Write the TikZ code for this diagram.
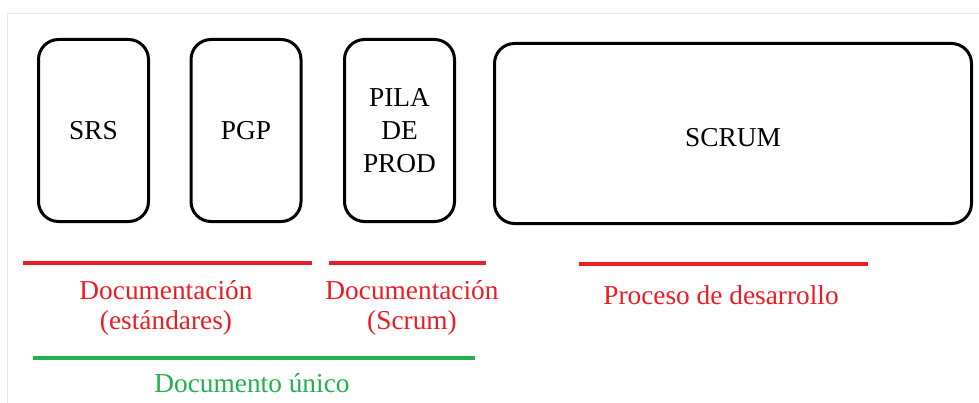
\documentclass[tikz,border=0pt]{standalone}
\usepackage{fontspec}
\setmainfont{Liberation Serif}
\usepackage{xcolor}
\usepackage{tikz}
\usetikzlibrary{positioning, calc}
\definecolor{barred}{HTML}{ED1C24}
\definecolor{bargreen}{HTML}{22B14C}
\tikzset{
    block/.style = {draw=black, line width=2.25pt, rounded corners=15pt,
        align=center, inner sep=0pt, font=\fontsize{20.5}{24.75}\selectfont},
    tall/.style = {block, minimum width=82.5pt, minimum height=136.5pt},
    bar/.style = {line width=3pt},
    caption/.style = {align=center, inner sep=0pt, font=\fontsize{20.5}{22.5}\selectfont},
}

\begin{document}
\begin{tikzpicture}[x=0.75pt, y=-0.75pt]
            \useasboundingbox (0,0) rectangle (979,403);
            % frame of the screenshot
            \draw[black!10, line width=0.75pt] (7.5,403) -- (7.5,14) -- (979,14);
            % blocks
            \node (srs) [tall] at (93.5,130.5) {SRS};
            \node (pgp) [tall] at (246,130.5) {PGP};
            \node (pila) [tall] at (399.5,130.5) {PILA\\DE\\PROD};
            \node (scrum) [block, minimum width=357.75pt, minimum height=135pt] at (733,133.5) {};
            \node (scrumtxt) at (733,138) [font=\fontsize{20.5}{24.75}\selectfont] {SCRUM};
            % bars
            \coordinate (estA) at (23,263);
            \coordinate (estB) at (312,263);
            \coordinate (scrA) at (329,263);
            \coordinate (scrB) at (486,263);
            \coordinate (devA) at (579,264);
            \coordinate (devB) at (868,264);
            \coordinate (uniA) at (33,358);
            \coordinate (uniB) at (475,358);
            \draw[bar, barred] (estA) -- (estB);
            \draw[bar, barred] (scrA) -- (scrB);
            \draw[bar, barred] (devA) -- (devB);
            \draw[bar, bargreen] (uniA) -- (uniB);
            % captions
            \node (est) [caption, text=barred] at (166,308) {Documentación\\(estándares)};
            \node (scr) [caption, text=barred] at (412,308) {Documentación\\(Scrum)};
            \node (dev) [caption, text=barred, anchor=base] at (721,304) {Proceso de desarrollo};
            \node (uni) [caption, text=bargreen, anchor=base] at (252,392) {Documento único};
\end{tikzpicture}
\end{document}
